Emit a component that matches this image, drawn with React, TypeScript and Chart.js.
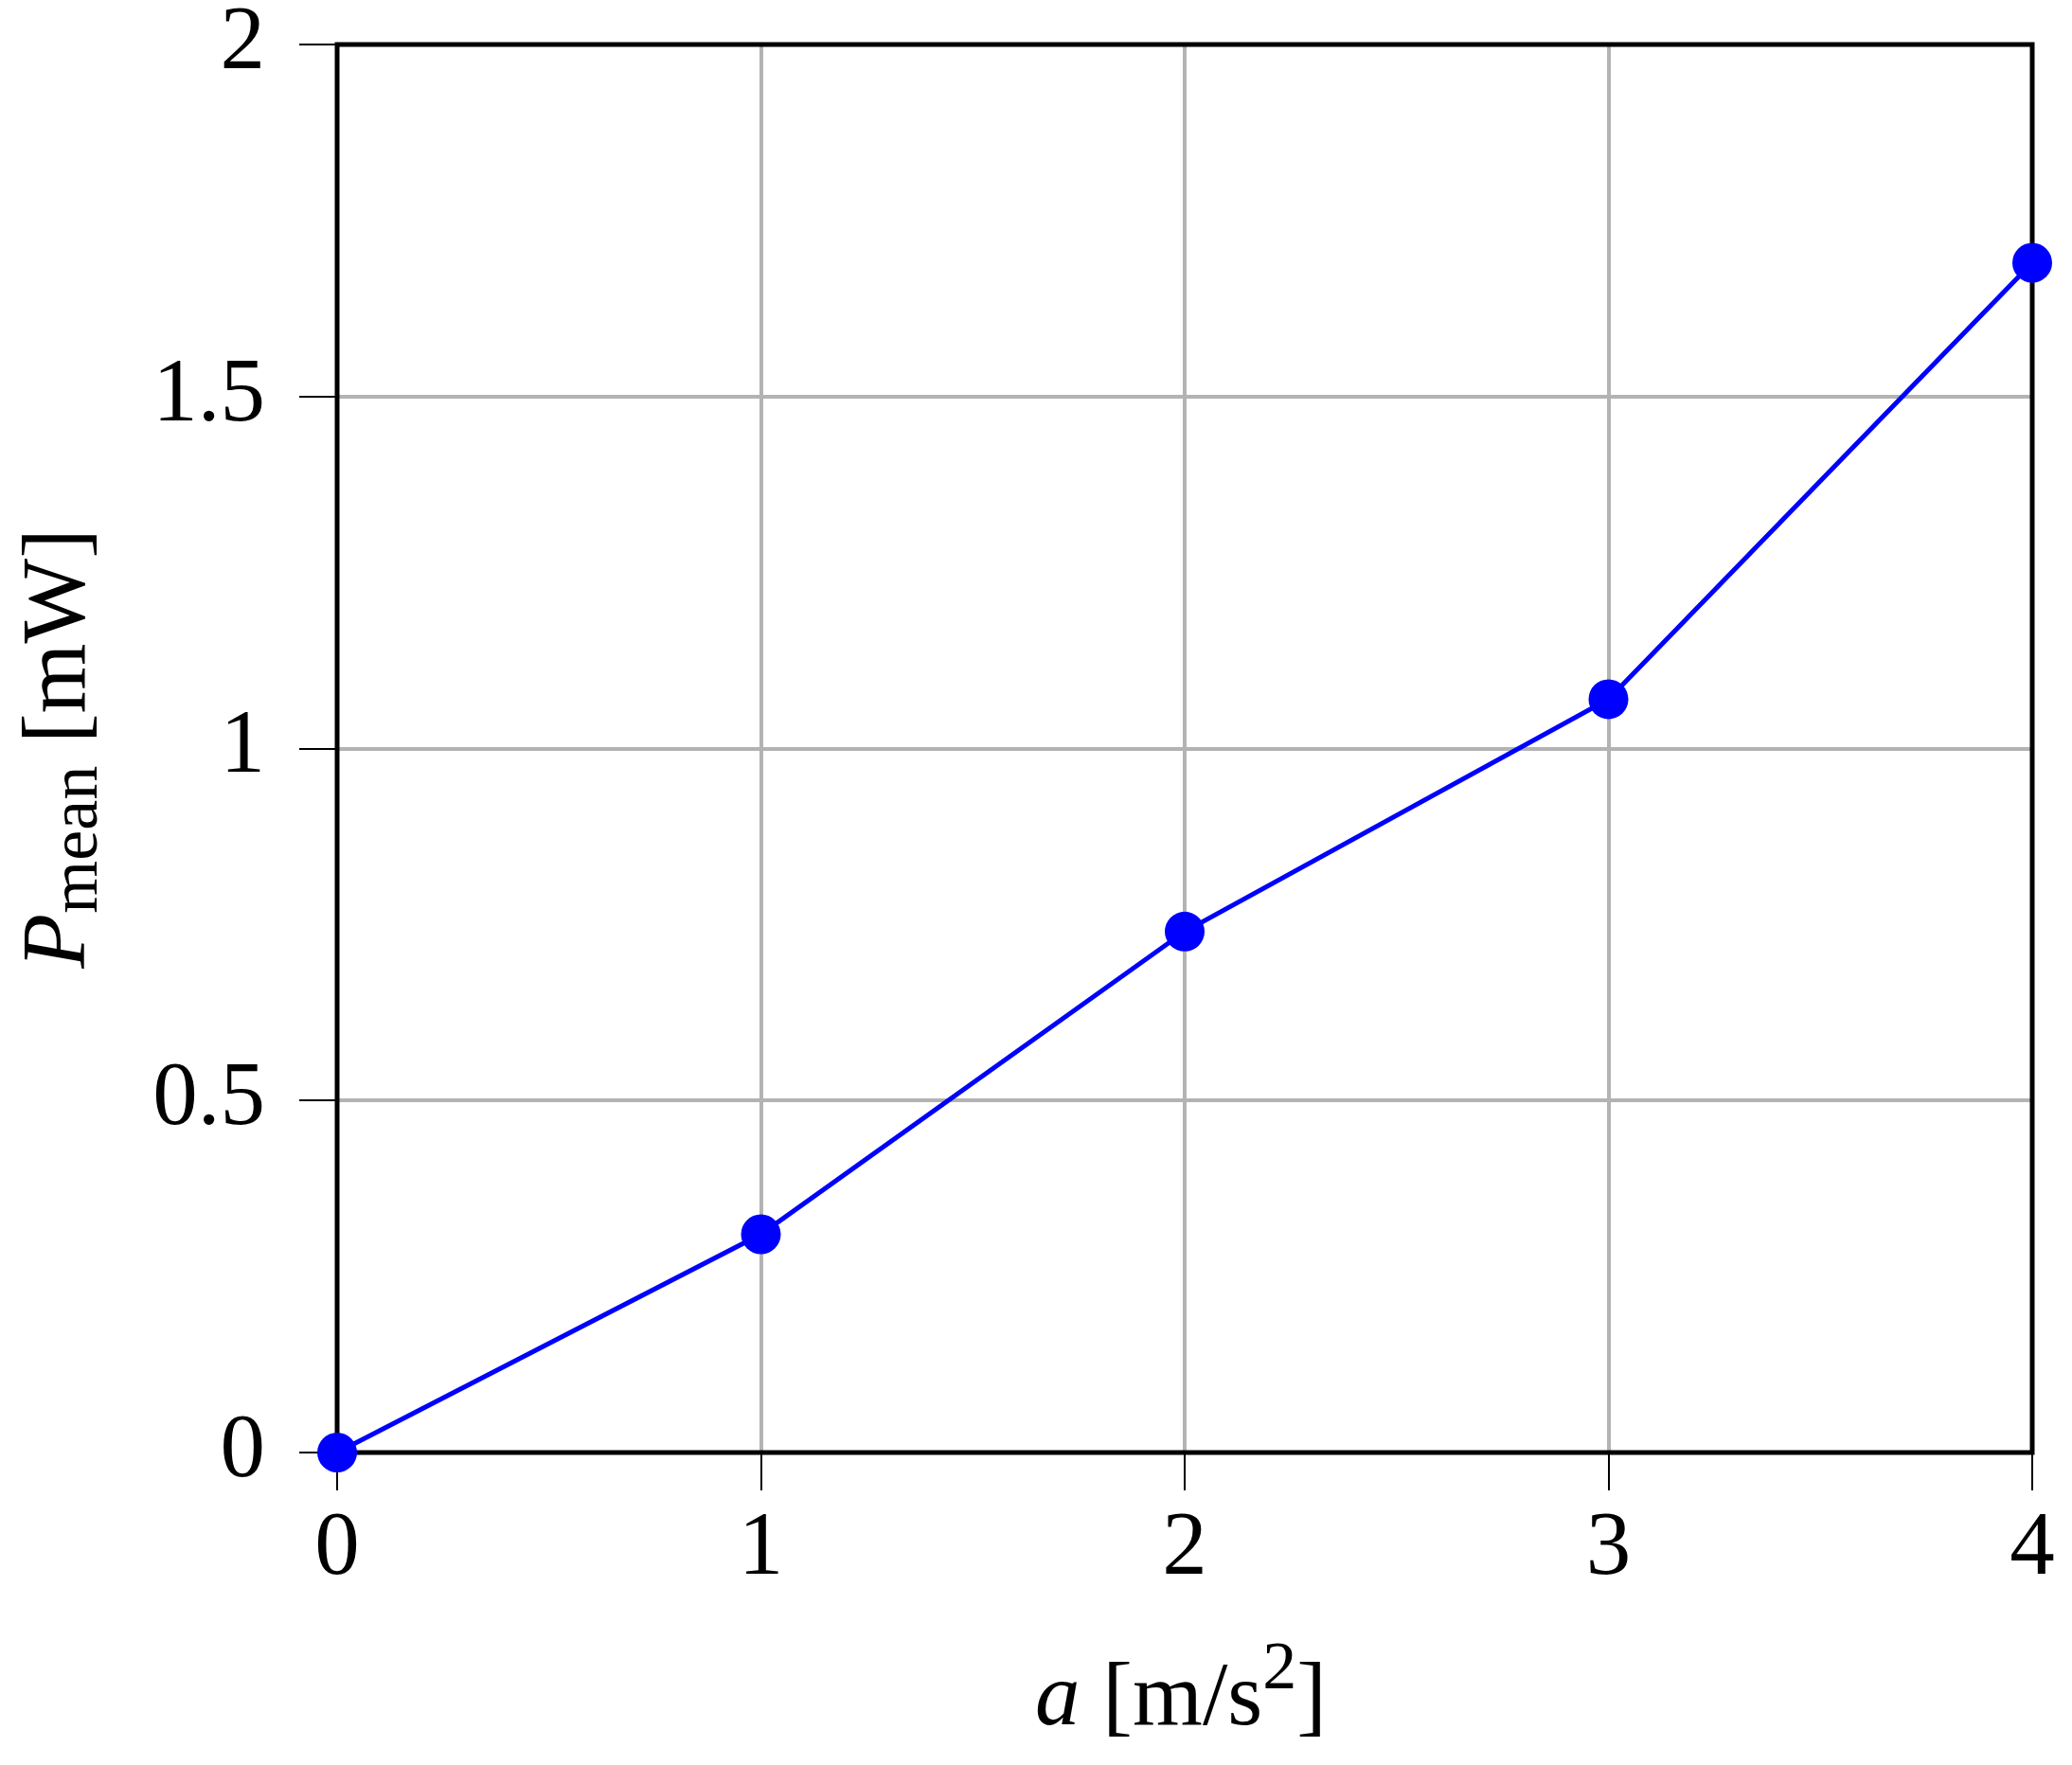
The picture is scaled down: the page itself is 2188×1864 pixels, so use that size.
import React, { useEffect, useRef } from "react";
import { Chart, registerables } from "chart.js";

Chart.register(...registerables);

// ---- data ----
const accelValues = [0, 1, 2, 3, 4];
const powerValues = [0, 0.31, 0.74, 1.07, 1.69];
const xTickValues = [0, 1, 2, 3, 4];
const yTickValues = [0, 0.5, 1, 1.5, 2];
const xTitleParts = ["a", " [m/s", "2", "]"];
const yTitleParts = ["P", "mean", " [mW]"];

const W = 2188;
const H = 1864;
const FONT = '"Liberation Serif", "Times New Roman", serif';
const FS = 95;

const framePlugin = {
  id: "frame",
  beforeDatasetsDraw(chart: any) {
    const { ctx, chartArea: a } = chart;
    ctx.save();
    ctx.strokeStyle = "#000";
    ctx.lineWidth = 5;
    ctx.strokeRect(a.left, a.top, a.right - a.left, a.bottom - a.top);
    ctx.restore();
  },
};

const titlePlugin = {
  id: "axisTitles",
  afterDraw(chart: any) {
    const { ctx, chartArea: a } = chart;
    ctx.save();
    ctx.fillStyle = "#000";
    ctx.textBaseline = "alphabetic";
    ctx.textAlign = "left";

    // x title: a [m/s^2]
    const xp = [
      { t: xTitleParts[0], f: `italic ${FS}px ${FONT}`, dy: 0 },
      { t: xTitleParts[1], f: `${FS}px ${FONT}`, dy: 0 },
      { t: xTitleParts[2], f: `${Math.round(FS * 0.76)}px ${FONT}`, dy: -38 },
      { t: xTitleParts[3], f: `${FS}px ${FONT}`, dy: 0 },
    ];
    let total = 0;
    for (const p of xp) {
      ctx.font = p.f;
      total += ctx.measureText(p.t).width;
    }
    let x = (a.left + a.right) / 2 - total / 2 - 4;
    const baseY = a.bottom + 287;
    for (const p of xp) {
      ctx.font = p.f;
      ctx.fillText(p.t, x, baseY + p.dy);
      x += ctx.measureText(p.t).width;
    }

    // y title: P_mean [mW]
    const yp = [
      { t: yTitleParts[0], f: `italic ${FS}px ${FONT}`, dy: 0 },
      { t: yTitleParts[1], f: `${Math.round(FS * 0.76)}px ${FONT}`, dy: 13 },
      { t: yTitleParts[2], f: `${FS}px ${FONT}`, dy: 0 },
    ];
    total = 0;
    for (const p of yp) {
      ctx.font = p.f;
      total += ctx.measureText(p.t).width;
    }
    ctx.translate(a.left - 267, (a.top + a.bottom) / 2);
    ctx.rotate(-Math.PI / 2);
    let s = -total / 2;
    for (const p of yp) {
      ctx.font = p.f;
      ctx.fillText(p.t, s, p.dy);
      s += ctx.measureText(p.t).width;
    }
    ctx.restore();
  },
};

export default function App() {
  const canvasRef = useRef<HTMLCanvasElement | null>(null);

  useEffect(() => {
    const canvas = canvasRef.current;
    if (!canvas) return;
    const chart = new Chart(canvas, {
      type: "line",
      data: {
        datasets: [
          {
            data: accelValues.map((v, i) => ({ x: v, y: powerValues[i] })),
            borderColor: "#0000ff",
            backgroundColor: "#0000ff",
            borderWidth: 5,
            pointRadius: 21,
            pointBorderWidth: 0,
            pointBackgroundColor: "#0000ff",
            tension: 0,
            clip: false as any,
          },
        ],
      },
      options: {
        responsive: false,
        animation: false,
        devicePixelRatio: 1,
        layout: { padding: { top: 47, right: 42, left: 0, bottom: 0 } },
        plugins: {
          legend: { display: false },
          tooltip: { enabled: false },
          title: { display: false },
        },
        scales: {
          x: {
            type: "linear",
            min: 0,
            max: 4,
            afterBuildTicks: (scale: any) => {
              scale.ticks = xTickValues.map((v) => ({ value: v }));
            },
            afterFit: (scale: any) => {
              scale.height = 330;
              scale.paddingLeft = 0;
              scale.paddingRight = 0;
            },
            border: { display: false },
            grid: {
              color: "#b3b3b3",
              lineWidth: 4,
              drawTicks: true,
              tickLength: 40,
              tickColor: "#000",
              tickWidth: 2,
            },
            ticks: {
              color: "#000",
              padding: 6,
              maxRotation: 0,
              autoSkip: false,
              font: { family: FONT, size: FS },
              callback: (v: any) => `${+v}`,
            },
          },
          y: {
            type: "linear",
            min: 0,
            max: 2,
            afterBuildTicks: (scale: any) => {
              scale.ticks = yTickValues.map((v) => ({ value: v }));
            },
            afterFit: (scale: any) => {
              scale.width = 356;
              scale.paddingTop = 0;
              scale.paddingBottom = 0;
            },
            border: { display: false },
            grid: {
              color: "#b3b3b3",
              lineWidth: 4,
              drawTicks: true,
              tickLength: 40,
              tickColor: "#000",
              tickWidth: 2,
            },
            ticks: {
              color: "#000",
              padding: 36,
              autoSkip: false,
              font: { family: FONT, size: FS },
              callback: (v: any) => `${+v}`,
            },
          },
        },
      },
      plugins: [framePlugin, titlePlugin],
    });
    return () => chart.destroy();
  }, []);

  return (
    <div style={{ position: "absolute", left: 0, top: 0, width: W, height: H, background: "#fff" }}>
      <canvas ref={canvasRef} width={W} height={H} style={{ display: "block", width: W, height: H }} />
    </div>
  );
}
